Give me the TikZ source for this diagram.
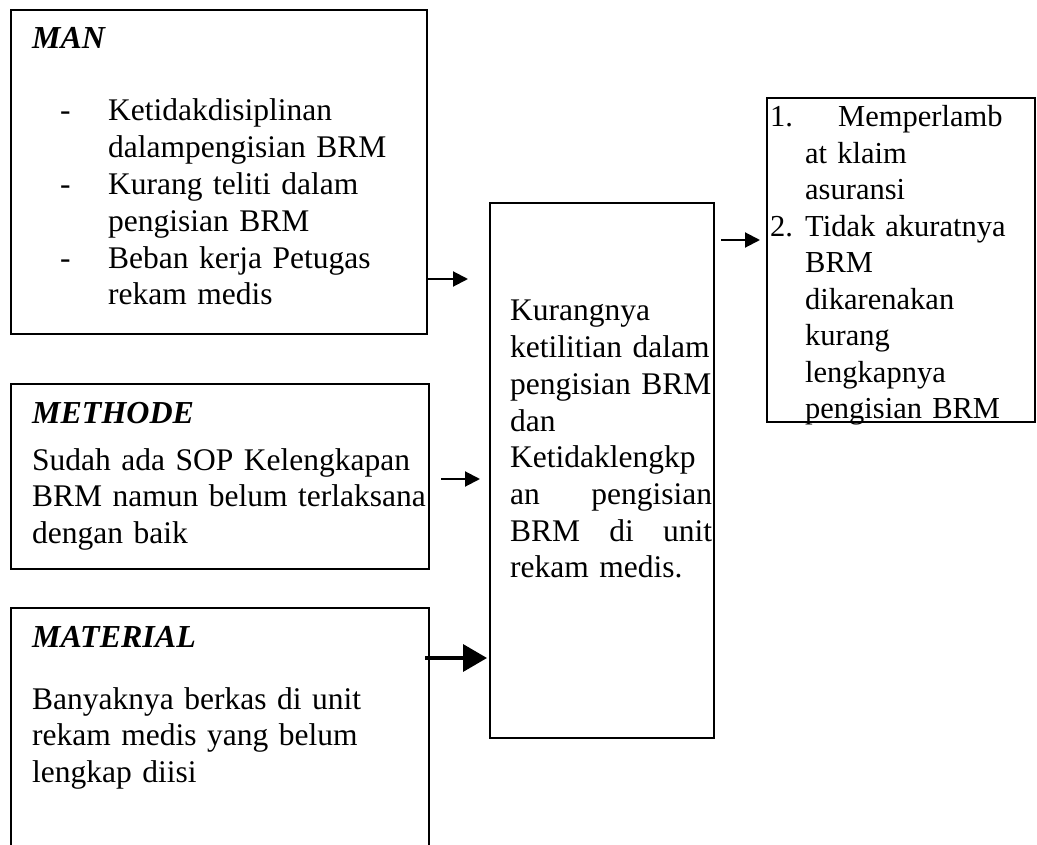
\documentclass[tikz,border=0pt]{standalone}
\usepackage{fontspec}
\setmainfont{Liberation Serif}
\usetikzlibrary{arrows.meta}
\begin{document}
\hyphenpenalty=10000
\exhyphenpenalty=10000
\begin{tikzpicture}[x=1pt,y=-1pt,
  box/.style={draw,line width=2pt,rectangle,inner sep=0pt,anchor=north west},
  txt/.style={anchor=base west,inner sep=0pt,align=left,font=\fontsize{31.5}{36.8}\selectfont},
  txtc/.style={anchor=base west,inner sep=0pt,align=left,font=\fontsize{31.5}{36.7}\selectfont},
  txtr/.style={anchor=base west,inner sep=0pt,align=left,font=\fontsize{30.5}{36.5}\selectfont},
  ttl/.style={anchor=base west,inner sep=0pt,font=\fontsize{32}{36.8}\selectfont\bfseries\itshape},
  arr/.style={-{Triangle[length=15pt,width=15pt]},line width=2pt},
  arrbig/.style={-{Triangle[length=24pt,width=27pt]},line width=3.5pt}]
\useasboundingbox (0,0) rectangle (1037,845);
\clip (0,0) rectangle (1037,845);
% boxes
\node[box,minimum width=416pt,minimum height=324pt] (man) at (10,9) {};
\node[box,minimum width=418pt,minimum height=185pt] (met) at (10,383) {};
\node[box,minimum width=418pt,minimum height=300pt] (mat) at (10,607) {};
\node[box,minimum width=224pt,minimum height=535pt] (cen) at (489,202) {};
\node[box,minimum width=268pt,minimum height=324pt] (res) at (766,97) {};
% MAN
\node[ttl] (mant) at (32,49) {MAN};
\node[txt] (d1) at (60,121) {-};
\node[txt] (d2) at (60,194.6) {-};
\node[txt] (d3) at (60,268.2) {-};
\node[txt,text width=316pt] (manb) at (108,121) {Ketidakdisiplinan\\dalampengisian BRM\\Kurang teliti dalam\\pengisian BRM\\Beban kerja Petugas\\rekam medis};
% METHODE
\node[ttl] (mett) at (32,423) {METHODE};
\node[txt,text width=420pt] (metb) at (32,470) {Sudah ada SOP Kelengkapan\\BRM namun belum terlaksana\\dengan baik};
% MATERIAL
\node[ttl] (matt) at (32,647) {MATERIAL};
\node[txt,text width=420pt] (matb) at (32,709) {Banyaknya berkas di unit\\rekam medis yang belum\\lengkap diisi};
% centre
\node[txtc,text width=202pt] (cenb) at (510,321) {\mbox{Kurangnya}\\\mbox{ketilitian dalam}\\\mbox{pengisian BRM}\\dan\\\mbox{Ketidaklengkp}\\an\hfill pengisian\\BRM\hfill di\hfill unit\\\mbox{rekam medis.}};
% result
\node[txtr] (n1) at (770,127) {1.};
\node[txtr] (r1a) at (838,127) {Memperlamb};
\node[txtr,text width=230pt] (r1b) at (805,163.5) {at klaim\\asuransi};
\node[txtr] (n2) at (770,236.5) {2.};
\node[txtr,text width=230pt] (r2) at (805,236.5) {Tidak akuratnya\\BRM\\dikarenakan\\kurang\\lengkapnya\\pengisian BRM};
% connectors
\coordinate (y1) at (0,279);
\coordinate (y2) at (0,479);
\coordinate (y3) at (0,658);
\coordinate (y4) at (0,240);
\draw[arr] (man.east |- y1) -- ([xshift=-21pt]cen.west |- y1);
\draw[arr] ([xshift=11pt]met.east |- y2) -- ([xshift=-9pt]cen.west |- y2);
\draw[arrbig] ([xshift=-5pt]mat.east |- y3) -- ([xshift=-2pt]cen.west |- y3);
\draw[arr] ([xshift=6pt]cen.east |- y4) -- ([xshift=-6pt]res.west |- y4);
\end{tikzpicture}
\end{document}
